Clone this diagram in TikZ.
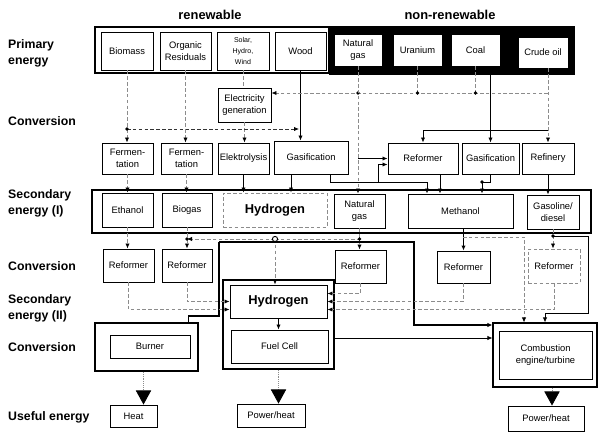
\documentclass[tikz,border=0pt]{standalone}
\usepackage{fontspec}
\setmainfont{Liberation Sans}
\usepackage{tikz}
\usetikzlibrary{arrows.meta}

\tikzset{boxsize/.style 2 args={minimum width=#1*0.03cm, minimum height=#2*0.03cm}}

\begin{document}
\begin{tikzpicture}[
        x=0.03cm, y=-0.03cm,
        block/.style={rectangle, draw, line width=0.8pt, fill=white, align=center, inner sep=0pt, font=\fontsize{8}{10}\selectfont},
        group/.style={rectangle, draw, line width=0.9pt, inner sep=0pt},
        carrier/.style={block, font=\bfseries\fontsize{11}{12}\selectfont},
        header/.style={font=\bfseries\fontsize{11}{13}\selectfont},
        rowlabel/.style={anchor=west, align=left, inner sep=0pt, font=\bfseries\fontsize{10.5}{13.5}\selectfont},
        arrow/.style={line width=0.7pt, -{Latex[length=1.5mm, width=1.3mm, color=black]}},
        feed/.style={arrow, draw=black!45, densely dashed},
        dark/.style={arrow, draw=black!80, densely dashed},
        power/.style={arrow, line width=1.2pt},
        output/.style={draw=black!45, densely dotted, line width=0.7pt, -{Triangle[width=13pt, length=12pt, color=black]}}
    ]
        \useasboundingbox (0,0) rectangle (598,432);

        % Row labels
        \node[rowlabel] (lblPrimary) at (8,53) {Primary\\energy};
        \node[rowlabel] (lblConvA) at (8,121) {Conversion};
        \node[rowlabel] (lblSecA) at (8,203) {Secondary\\energy (I)};
        \node[rowlabel] (lblConvB) at (8,266) {Conversion};
        \node[rowlabel] (lblSecB) at (8,308) {Secondary\\energy (II)};
        \node[rowlabel] (lblConvC) at (8,347) {Conversion};
        \node[rowlabel] (lblUseful) at (8,417) {Useful energy};

        % Primary energy
        \node[header] (renewTitle) at (210,15) {renewable};
        \node[header] (fossilTitle) at (450,15) {non-renewable};
        \node[group, boxsize={234}{46}] (renewBox) at (212,50) {};
        \node[group, fill=black, boxsize={244}{47}] (fossilBox) at (452,50.5) {};
        \node[block, boxsize={52}{38}] (biomass) at (127,51) {Biomass};
        \node[block, boxsize={51}{38}] (residuals) at (185.5,51) {Organic\\Residuals};
        \node[block, boxsize={52}{38}, font=\fontsize{6}{9.5}\selectfont] (solar) at (243,51) {Solar,\\Hydro,\\Wind};
        \node[block, boxsize={51}{38}] (wood) at (300.5,51) {Wood};
        \node[block, boxsize={48}{32}] (natgas) at (358,50) {Natural\\gas};
        \node[block, boxsize={49}{32}] (uranium) at (417.5,50) {Uranium};
        \node[block, boxsize={49}{32}] (coal) at (475.5,50) {Coal};
        \node[block, boxsize={50}{31}] (crudeoil) at (543,52.5) {Crude oil};

        % Conversion (primary -> secondary I)
        \node[block, boxsize={53}{34}] (elecgen) at (244.5,105) {Electricity\\generation};
        \node[block, boxsize={51}{31}] (fermA) at (127.5,158.5) {Fermen-\\tation};
        \node[block, boxsize={51}{31}] (fermB) at (186.5,158.5) {Fermen-\\tation};
        \node[block, boxsize={51}{31}] (elektro) at (243.5,158.5) {Elektrolysis};
        \node[block, boxsize={74}{33}] (gasifA) at (311,157.5) {Gasification};
        \node[block, boxsize={70}{31}] (reformA) at (423,158.5) {Reformer};
        \node[block, boxsize={57}{31}] (gasifB) at (490.5,158.5) {Gasification};
        \node[block, boxsize={52}{31}] (refinery) at (548,158.5) {Refinery};

        % Secondary energy (I)
        \node[group, boxsize={499}{43}] (secA) at (341.5,211.5) {};
        \node[block, boxsize={51}{34}] (ethanol) at (127.5,210) {Ethanol};
        \node[block, boxsize={50}{34}] (biogas) at (187,210) {Biogas};
        \node[carrier, boxsize={104}{34}, draw=black!45, densely dashed] (hydroA) at (275,210) {Hydrogen};
        \node[block, boxsize={51}{34}] (natgasB) at (359.5,211) {Natural\\gas};
        \node[block, boxsize={105}{34}] (methanol) at (460.5,211) {Methanol};
        \node[block, boxsize={52}{34}] (gasoline) at (553,212) {Gasoline/\\diesel};

        % Conversion (reformers)
        \node[block, boxsize={51}{33}] (refEth) at (128.5,265.5) {Reformer};
        \node[block, boxsize={50}{33}] (refBio) at (187,265.5) {Reformer};
        \node[block, boxsize={51}{33}] (refGas) at (360.5,266.5) {Reformer};
        \node[block, boxsize={53}{32}] (refMeth) at (463.5,267) {Reformer};
        \node[block, boxsize={52}{34}, draw=black!45, densely dashed] (refOil) at (554,266) {Reformer};

        % Secondary energy (II) and end-use conversion
        \node[group, boxsize={111}{89}] (secB) at (278.5,324.5) {};
        \node[carrier, boxsize={97}{33}] (hydroB) at (278.5,301.5) {Hydrogen};
        \node[block, boxsize={97}{33}] (fuelcell) at (279.5,346.5) {Fuel Cell};
        \node[group, boxsize={103}{48}] (burnerBox) at (146.5,347) {};
        \node[block, boxsize={80}{23}] (burner) at (150,346.5) {Burner};
        \node[group, boxsize={104}{64}] (engineBox) at (545,355) {};
        \node[block, boxsize={93}{48}] (engine) at (545.5,355) {Combustion\\engine/turbine};

        % Useful energy
        \node[block, boxsize={47}{22}] (heat) at (133.5,416) {Heat};
        \node[block, boxsize={68}{23}] (powerA) at (271,415.5) {Power/heat};
        \node[block, boxsize={76}{25}] (powerB) at (546,418.5) {Power/heat};

        % Junctions
        \coordinate (elecBusL) at (127,129);
        \coordinate (elecBusR) at (299,129);
        \coordinate (oilTap) at (548,93);
        \coordinate (oilSplit) at (548,130);
        \coordinate (gasLoop) at (378,182);
        \coordinate (synBus) at (427,182);
        \coordinate (methJoin) at (482,182);
        \coordinate (hub) at (275,239);
        \coordinate (busA) at (219,242);
        \coordinate (busB) at (414,242);
        \coordinate (burnTap) at (219,316);
        \coordinate (methTap) at (463,237);
        \coordinate (methBend) at (524,237);
        \coordinate (oilTapB) at (553,236);
        \coordinate (oilBend) at (588,313);
        \coordinate (h2Out) at (334,338);

        % Renewable sources
        \draw[feed] (biomass.south) -- (biomass.south |- fermA.north);
        \draw[feed] (residuals.south) -- (residuals.south |- fermB.north);
        \draw[feed, -] (solar.south) -- (solar.south |- elecgen.north);
        \draw[feed] (elecgen.south) -- (elecgen.south |- elektro.north);
        \draw[arrow] (wood.south) -- (wood.south |- gasifA.north);
        \draw[dark] (elecBusL) -- (elecBusR);
        \fill (elecBusL) circle (1.6pt);

        % Non-renewable sources
        \draw[feed] (oilTap) -- (elecgen.east |- oilTap);
        \draw[feed, -] (uranium.south) -- (uranium.south |- oilTap);
        \draw[feed, -] (coal.south) -- (coal.south |- oilTap);
        \foreach \src in {natgas, uranium, coal}
            \fill (\src.south |- oilTap) circle (1.6pt);
        \draw[feed] (natgas.south) -- (natgas.south |- natgasB.north);
        \draw[feed] (crudeoil.south -| refinery.north) -- (refinery.north);
        \draw[arrow] (fossilBox.south -| gasifB.north) -- (gasifB.north);
        \draw[arrow] (oilSplit) -| (reformA.north);
        \draw[arrow] (natgas.south |- reformA.west) -- (reformA.west);
        \draw[arrow] (gasLoop) |- ([shift={(0,6)}]reformA.west);

        % Conversion -> secondary energy (I)
        \draw[feed] (fermA.south) -- (fermA.south |- ethanol.north);
        \draw[feed] (fermB.south) -- (fermB.south |- biogas.north);
        \draw[arrow] (elektro.south) -- (elektro.south |- hydroA.north);
        \draw[arrow] ([shift={(-20,0)}]gasifA.south) -- ([shift={(-20,0)}]gasifA.south |- hydroA.north);
        \draw[arrow] ([shift={(19,0)}]gasifA.south) |- (synBus) -- (synBus |- methanol.north);
        \draw[arrow] ([shift={(17,0)}]reformA.south) -- ([shift={(17,0)}]reformA.south |- methanol.north);
        \draw[arrow] (gasifB.south) |- (methJoin) -- (methJoin |- methanol.north);
        \fill (methJoin) circle (1.6pt);
        \draw[arrow] (refinery.south) -- (refinery.south |- gasoline.north);

        % Secondary energy (I) -> reformers
        \draw[feed] (ethanol.south) -- (ethanol.south |- refEth.north);
        \draw[feed] (biogas.south) -- (biogas.south |- refBio.north);
        \draw[feed] (natgasB.south) -- (natgasB.south |- refGas.north);
        \draw[power] (methanol.south -| refMeth.north) -- (refMeth.north);
        \draw[feed] (gasoline.south) -- (gasoline.south |- refOil.north);
        \draw[feed] (hub) -- (biogas.south |- hub);
        \draw[feed, -] (hub) -- (natgasB.south |- hub);
        \draw[feed] (hub) -- (hub |- hydroB.north);
        \fill (biogas.south |- hub) circle (1.6pt);
        \fill (natgasB.south |- hub) circle (1.6pt);
        \draw[line width=0.8pt, fill=white] (hub) circle (2.2pt);

        % Direct fuel lines to burner and engine
        \draw[power] (busA) -- (busB) |- ([shift={(0,-30)}]engineBox.west);
        \draw[power, -] (busA) -- (burnTap) -| ([shift={(42,0)}]burnerBox.north);
        \draw[feed] (methTap) -- (methBend) -- (methBend |- engineBox.north);
        \draw[arrow] (oilTapB) -| (oilBend) -| (engineBox.north);
        \fill (oilTapB) circle (1.6pt);

        % Reformers -> secondary energy (II)
        \draw[feed] (refEth.south) |- ([shift={(0,8)}]hydroB.west);
        \draw[feed] (refBio.south) |- (hydroB.west);
        \draw[feed] (refGas.south) |- ([shift={(0,-8)}]hydroB.east);
        \draw[feed] (refMeth.south) |- (hydroB.east);
        \draw[feed] (refOil.south) |- ([shift={(0,8)}]hydroB.east);
        \draw[arrow] (hydroB.south) -- (hydroB.south |- fuelcell.north);
        \draw[arrow] (h2Out) -- (h2Out -| engineBox.west);

        % Useful energy
        \draw[output] ([shift={(-3,0)}]burnerBox.south) -- ([shift={(-3,0)}]burnerBox.south |- heat.north);
        \draw[output] (secB.south) -- (secB.south |- powerA.north);
        \draw[output] ([shift={(7,0)}]engineBox.south) -- ([shift={(7,0)}]engineBox.south |- powerB.north);

    \end{tikzpicture}
\end{document}
